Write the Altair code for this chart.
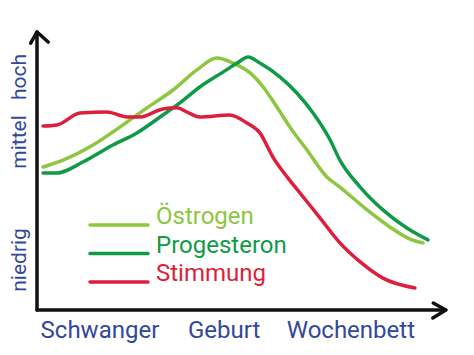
import altair as alt
import pandas as pd

# ---------------- data ----------------
SERIES = ["Östrogen", "Progesteron", "Stimmung"]
COLORS = ["#8dc63f", "#0f9a48", "#dc1f3c"]

# time axis 0..100 (Schwanger -> Wochenbett), level 0..100 (niedrig -> hoch)
oest_t = [1.5, 6.4, 13.8, 20.4, 27.1, 33.5, 39.4, 44.3, 48.3, 52.5, 55.7, 59.1,
          62.3, 66.5, 71.4, 74.6, 81.3, 86.9, 91.9, 95.1]
oest_v = [52.0, 54.5, 60.0, 66.5, 73.5, 80.0, 87.3, 91.6, 89.8, 86.2, 81.1, 73.8,
          66.5, 58.2, 48.4, 44.7, 36.4, 30.2, 25.8, 24.4]

prog_t = [1.5, 4.9, 11.3, 18.7, 24.6, 31.0, 35.2, 40.1, 45.8, 49.3, 52.0, 54.9,
          59.9, 64.0, 68.0, 72.2, 74.6, 79.6, 85.2, 91.1, 96.3]
prog_v = [49.8, 49.8, 53.8, 60.0, 64.4, 70.9, 75.3, 81.1, 86.5, 89.8, 92.0, 89.8,
          84.7, 78.9, 71.6, 61.8, 54.5, 44.7, 36.4, 29.8, 25.5]

stim_t = [1.5, 4.9, 10.6, 17.2, 22.2, 25.4, 31.0, 34.5, 36.9, 40.1, 47.5, 51.7,
          54.9, 58.1, 61.6, 64.8, 69.7, 74.6, 79.6, 85.2, 93.1]
stim_v = [66.9, 67.3, 71.6, 72.0, 70.2, 70.2, 73.1, 73.5, 72.0, 70.2, 70.9, 68.0,
          64.4, 55.6, 48.4, 42.5, 33.5, 24.4, 17.5, 11.6, 8.0]

X_TICKS = ["Schwanger", "Geburt", "Wochenbett"]
X_TICK_POS = [15.5, 46.1, 77.3]
Y_TICKS = ["niedrig", "mittel", "hoch"]
Y_TICK_POS = [18.2, 61.1, 84.7]

AXIS_RIGHT = 100.7   # end of the time arrow
AXIS_TOP = 101.1     # end of the level arrow

# ---------------- tables ----------------
rows = []
for name, ts, vs in [(SERIES[0], oest_t, oest_v), (SERIES[1], prog_t, prog_v), (SERIES[2], stim_t, stim_v)]:
    for i, (t, v) in enumerate(zip(ts, vs)):
        rows.append({"series": name, "t": t, "v": v, "order": i})
lines_df = pd.DataFrame(rows)

legend_df = pd.DataFrame({"series": SERIES, "idx": list(range(len(SERIES)))})
xlab_df = pd.DataFrame({"label": X_TICKS, "t": X_TICK_POS})
ylab_df = pd.DataFrame({"label": Y_TICKS, "v": Y_TICK_POS})
axis_df = pd.DataFrame({"t0": [0, 0], "t1": [0, AXIS_RIGHT], "v0": [0, 0], "v1": [AXIS_TOP, 0]})
arrow_df = pd.DataFrame({"dir": ["up", "right"], "t": [0, AXIS_RIGHT], "v": [AXIS_TOP, 0]})

# ---------------- layout / style ----------------
W, H = 474, 355
X_DOM = [-9.113, 107.635]
Y_DOM = [-16.364, 112.727]
xs = alt.Scale(domain=X_DOM, nice=False, zero=False)
ys = alt.Scale(domain=Y_DOM, nice=False, zero=False)
cs = alt.Scale(domain=SERIES, range=COLORS)
BLUE = "#33489a"
FONT = "Roboto, Lato, sans-serif"

lines = alt.Chart(lines_df).mark_line(
    strokeWidth=3.5, strokeCap="round", strokeJoin="round", interpolate="monotone"
).encode(
    x=alt.X("t:Q", scale=xs, axis=None),
    y=alt.Y("v:Q", scale=ys, axis=None),
    color=alt.Color("series:N", scale=cs, legend=None),
    detail="series:N",
    order="order:Q",
)

axes = alt.Chart(axis_df).mark_rule(strokeWidth=3.5, color="#111111", strokeCap="round").encode(
    x=alt.X("t0:Q", scale=xs, axis=None),
    x2="t1:Q",
    y=alt.Y("v0:Q", scale=ys, axis=None),
    y2="v1:Q",
)

UP = "M -0.45 0.8 L 0 0 L 0.8 0.72"
RIGHT = "M -0.9 -0.5 L 0 0 L -0.93 0.57"
arrows = alt.Chart(arrow_df).mark_point(
    filled=False, strokeWidth=3.5, color="#111111", opacity=1, size=784,
    strokeCap="round", strokeJoin="round"
).encode(
    x=alt.X("t:Q", scale=xs, axis=None),
    y=alt.Y("v:Q", scale=ys, axis=None),
    shape=alt.Shape("dir:N", scale=alt.Scale(domain=["up", "right"], range=[UP, RIGHT]), legend=None),
)

xlabels = alt.Chart(xlab_df).mark_text(
    font=FONT, fontSize=24, color=BLUE, baseline="middle", align="center"
).encode(
    x=alt.X("t:Q", scale=xs, axis=None),
    y=alt.value(331),
    text="label:N",
)

ylabels = alt.Chart(ylab_df).mark_text(
    font=FONT, fontSize=21, color=BLUE, baseline="middle", align="center", angle=270
).encode(
    x=alt.value(20),
    y=alt.Y("v:Q", scale=ys, axis=None),
    text="label:N",
)

leg_y = alt.Y("idx:Q", scale=alt.Scale(domain=[0, 2], range=[225, 282]), axis=None)
leg_lines = alt.Chart(legend_df).mark_rule(strokeWidth=3.5, strokeCap="round").encode(
    x=alt.value(90), x2=alt.value(148), y=leg_y,
    color=alt.Color("series:N", scale=cs, legend=None),
)
leg_text = alt.Chart(legend_df).mark_text(
    font=FONT, fontSize=24, align="left", baseline="alphabetic", dy=-1
).encode(
    x=alt.value(156), y=leg_y, text="series:N",
    color=alt.Color("series:N", scale=cs, legend=None),
)

chart = alt.layer(
    lines, axes, arrows, xlabels, ylabels, leg_lines, leg_text
).resolve_scale(y="independent").properties(
    width=W, height=H, autosize=alt.AutoSizeParams(type="none"), padding=0,
    background="white",
).configure_view(stroke=None)

chart.save("out.html", embed_options={"renderer": "svg", "actions": False})
